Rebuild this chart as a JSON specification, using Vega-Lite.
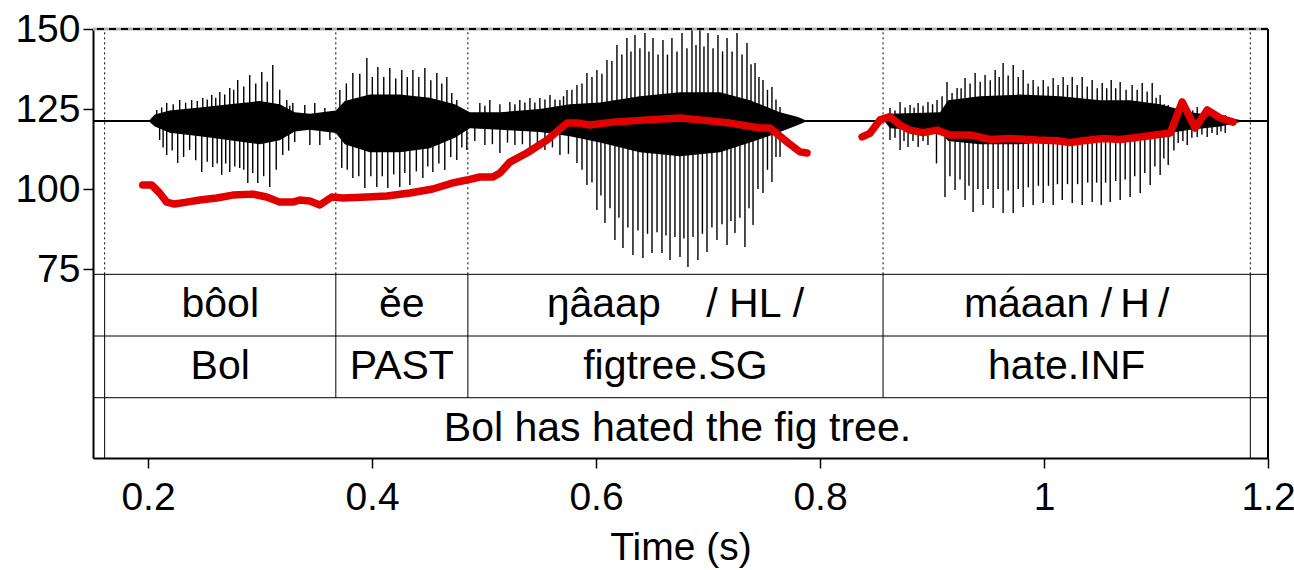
{
  "$schema": "https://vega.github.io/schema/vega-lite/v6.json",
  "width": 1175,
  "height": 429,
  "autosize": {"type": "none"},
  "padding": {"left": 93, "top": 29, "right": 26, "bottom": 112},
  "background": "white",
  "config": {
    "view": {"stroke": null},
    "font": "Liberation Sans",
    "text": {"font": "Liberation Sans", "color": "black"}
  },
  "resolve": {"axis": {"x": "independent", "y": "independent"}},
  "datasets": {
    "core": [
      {"t": 0.1509, "hi": 121.6, "lo": 120.9},
      {"t": 0.2015, "hi": 121.6, "lo": 120.9},
      {"t": 0.206, "hi": 123.25, "lo": 119.5},
      {"t": 0.2194, "hi": 124.5, "lo": 117.6},
      {"t": 0.2462, "hi": 125.5, "lo": 116.5},
      {"t": 0.273, "hi": 126.5, "lo": 115.25},
      {"t": 0.2998, "hi": 127.5, "lo": 114},
      {"t": 0.3176, "hi": 126.5, "lo": 115.25},
      {"t": 0.331, "hi": 124, "lo": 118},
      {"t": 0.3445, "hi": 123.5, "lo": 118.5},
      {"t": 0.3677, "hi": 124.5, "lo": 117.5},
      {"t": 0.3757, "hi": 127.5, "lo": 114},
      {"t": 0.398, "hi": 129.5, "lo": 111.5},
      {"t": 0.4248, "hi": 129.5, "lo": 111.5},
      {"t": 0.4516, "hi": 128.5, "lo": 112.75},
      {"t": 0.474, "hi": 126.5, "lo": 116},
      {"t": 0.4874, "hi": 124, "lo": 119},
      {"t": 0.5142, "hi": 124, "lo": 118.5},
      {"t": 0.5499, "hi": 125, "lo": 117.8},
      {"t": 0.5767, "hi": 126.5, "lo": 116.5},
      {"t": 0.6035, "hi": 127, "lo": 114.5},
      {"t": 0.6392, "hi": 129, "lo": 111.5},
      {"t": 0.675, "hi": 130.25, "lo": 110.25},
      {"t": 0.7107, "hi": 130.25, "lo": 111.5},
      {"t": 0.7375, "hi": 127.75, "lo": 114.5},
      {"t": 0.7643, "hi": 124, "lo": 117.8},
      {"t": 0.7804, "hi": 122.5, "lo": 120},
      {"t": 0.7866, "hi": 121.6, "lo": 120.9},
      {"t": 0.8581, "hi": 121.6, "lo": 120.9},
      {"t": 0.8625, "hi": 123.5, "lo": 119},
      {"t": 0.9072, "hi": 124, "lo": 118},
      {"t": 0.9144, "hi": 127.75, "lo": 115},
      {"t": 0.9429, "hi": 129, "lo": 114},
      {"t": 0.9787, "hi": 129.5, "lo": 114},
      {"t": 1.0145, "hi": 129, "lo": 115},
      {"t": 1.0502, "hi": 127.75, "lo": 116},
      {"t": 1.0769, "hi": 127.75, "lo": 116.5},
      {"t": 1.1037, "hi": 126.5, "lo": 117},
      {"t": 1.1305, "hi": 124, "lo": 118.5},
      {"t": 1.1573, "hi": 122.75, "lo": 119.5},
      {"t": 1.1752, "hi": 121.6, "lo": 120.9},
      {"t": 1.2, "hi": 121.6, "lo": 120.9}
    ],
    "spikes": [
      {"t": 0.2078, "v": 124.7}, {"t": 0.2167, "v": 126.9}, {"t": 0.2283, "v": 127.8}, {"t": 0.239, "v": 127.8},
      {"t": 0.2489, "v": 128.4}, {"t": 0.2569, "v": 129.4}, {"t": 0.2641, "v": 130.3}, {"t": 0.273, "v": 131.6},
      {"t": 0.2801, "v": 134.1}, {"t": 0.2908, "v": 135.6}, {"t": 0.3016, "v": 136.6}, {"t": 0.3114, "v": 138.75},
      {"t": 0.3239, "v": 127.8}, {"t": 0.3293, "v": 126.9},
      {"t": 0.2104, "v": 115.3}, {"t": 0.2167, "v": 110.6}, {"t": 0.2265, "v": 108.1}, {"t": 0.2372, "v": 112.2},
      {"t": 0.248, "v": 105.3}, {"t": 0.2578, "v": 106.9}, {"t": 0.2658, "v": 104.4}, {"t": 0.273, "v": 105.3},
      {"t": 0.2819, "v": 106.6}, {"t": 0.2891, "v": 101.9}, {"t": 0.298, "v": 101.9}, {"t": 0.3087, "v": 100.6},
      {"t": 0.3203, "v": 110.6}, {"t": 0.331, "v": 114.7},
      {"t": 0.2122, "v": 125.5}, {"t": 0.2225, "v": 126.5}, {"t": 0.2336, "v": 127}, {"t": 0.244, "v": 127.5},
      {"t": 0.2529, "v": 128}, {"t": 0.2605, "v": 128.5}, {"t": 0.2685, "v": 129.5}, {"t": 0.2765, "v": 131},
      {"t": 0.2855, "v": 132}, {"t": 0.2962, "v": 133}, {"t": 0.3065, "v": 133.5}, {"t": 0.3176, "v": 131}, {"t": 0.3266, "v": 126},
      {"t": 0.2135, "v": 113}, {"t": 0.2216, "v": 112}, {"t": 0.2318, "v": 110}, {"t": 0.2426, "v": 109},
      {"t": 0.2529, "v": 108.5}, {"t": 0.2618, "v": 108}, {"t": 0.2694, "v": 108}, {"t": 0.2775, "v": 107},
      {"t": 0.2855, "v": 106}, {"t": 0.2935, "v": 105}, {"t": 0.3033, "v": 104}, {"t": 0.3145, "v": 106}, {"t": 0.3256, "v": 112},
      {"t": 0.34, "v": 126.25}, {"t": 0.3489, "v": 126.9}, {"t": 0.3579, "v": 125.3},
      {"t": 0.3445, "v": 113.75}, {"t": 0.3534, "v": 113.75}, {"t": 0.3624, "v": 115.3},
      {"t": 0.3713, "v": 130.9}, {"t": 0.3829, "v": 136.25}, {"t": 0.3954, "v": 140.9}, {"t": 0.4052, "v": 138.1},
      {"t": 0.4159, "v": 137.8}, {"t": 0.4266, "v": 137.2}, {"t": 0.4365, "v": 137.2}, {"t": 0.4472, "v": 137.8},
      {"t": 0.4579, "v": 136.25}, {"t": 0.4668, "v": 135.0}, {"t": 0.4757, "v": 127.8},
      {"t": 0.373, "v": 106.6}, {"t": 0.3829, "v": 103.4}, {"t": 0.3936, "v": 100.3}, {"t": 0.4043, "v": 100.6},
      {"t": 0.4141, "v": 100.3}, {"t": 0.4248, "v": 100.6}, {"t": 0.4338, "v": 101.25}, {"t": 0.4454, "v": 103.4},
      {"t": 0.4543, "v": 105.3}, {"t": 0.465, "v": 105.9}, {"t": 0.4757, "v": 109.06}, {"t": 0.4847, "v": 112.2},
      {"t": 0.3771, "v": 133}, {"t": 0.3891, "v": 136}, {"t": 0.4003, "v": 135}, {"t": 0.4105, "v": 135},
      {"t": 0.4212, "v": 134.5}, {"t": 0.4315, "v": 135}, {"t": 0.4418, "v": 135}, {"t": 0.4525, "v": 134},
      {"t": 0.4623, "v": 133}, {"t": 0.4712, "v": 130},
      {"t": 0.3779, "v": 106}, {"t": 0.3882, "v": 104}, {"t": 0.399, "v": 104}, {"t": 0.4092, "v": 104},
      {"t": 0.4194, "v": 104.5}, {"t": 0.4293, "v": 105}, {"t": 0.4396, "v": 105.5}, {"t": 0.4498, "v": 107},
      {"t": 0.4597, "v": 108}, {"t": 0.4703, "v": 110}, {"t": 0.4802, "v": 113},
      {"t": 0.4963, "v": 126.9}, {"t": 0.5052, "v": 127.8}, {"t": 0.5231, "v": 127.2}, {"t": 0.532, "v": 127.8},
      {"t": 0.541, "v": 128.4}, {"t": 0.5499, "v": 128.4}, {"t": 0.5589, "v": 129.4}, {"t": 0.5678, "v": 127.8},
      {"t": 0.5741, "v": 130.9}, {"t": 0.583, "v": 132.5}, {"t": 0.5919, "v": 136.25},
      {"t": 0.5008, "v": 113.75}, {"t": 0.5142, "v": 111.25}, {"t": 0.5276, "v": 113.75}, {"t": 0.541, "v": 112.2},
      {"t": 0.5544, "v": 112.2}, {"t": 0.5678, "v": 110.6}, {"t": 0.583, "v": 108.1}, {"t": 0.5919, "v": 101.25},
      {"t": 0.5008, "v": 126}, {"t": 0.5142, "v": 126.5}, {"t": 0.5276, "v": 126.5}, {"t": 0.5365, "v": 127},
      {"t": 0.5454, "v": 127}, {"t": 0.5544, "v": 128}, {"t": 0.5634, "v": 128}, {"t": 0.571, "v": 129},
      {"t": 0.5785, "v": 131}, {"t": 0.5875, "v": 133}, {"t": 0.5964, "v": 135},
      {"t": 0.4918, "v": 115}, {"t": 0.5075, "v": 114}, {"t": 0.521, "v": 114.5}, {"t": 0.5343, "v": 114},
      {"t": 0.5477, "v": 114}, {"t": 0.5611, "v": 113}, {"t": 0.5754, "v": 111}, {"t": 0.5875, "v": 106}, {"t": 0.5964, "v": 102},
      {"t": 0.6008, "v": 137.2}, {"t": 0.6098, "v": 140.3}, {"t": 0.6187, "v": 145.0}, {"t": 0.6276, "v": 147.2},
      {"t": 0.6348, "v": 148.1}, {"t": 0.6437, "v": 148.75}, {"t": 0.6509, "v": 147.2}, {"t": 0.6598, "v": 146.6},
      {"t": 0.6678, "v": 147.2}, {"t": 0.6768, "v": 148.75}, {"t": 0.6857, "v": 149.7}, {"t": 0.6928, "v": 149.7},
      {"t": 0.7, "v": 148.75}, {"t": 0.7089, "v": 148.1}, {"t": 0.717, "v": 147.2}, {"t": 0.7259, "v": 148.75},
      {"t": 0.7348, "v": 145.6}, {"t": 0.742, "v": 139.4}, {"t": 0.7491, "v": 134.1}, {"t": 0.7571, "v": 131.9},
      {"t": 0.7643, "v": 125.6},
      {"t": 0.6008, "v": 93.4}, {"t": 0.608, "v": 89.4}, {"t": 0.6169, "v": 84.1}, {"t": 0.6241, "v": 81.6},
      {"t": 0.633, "v": 79.4}, {"t": 0.6419, "v": 78.4}, {"t": 0.65, "v": 80.0}, {"t": 0.6589, "v": 80.0},
      {"t": 0.6661, "v": 77.8}, {"t": 0.675, "v": 78.75}, {"t": 0.6821, "v": 75.6}, {"t": 0.691, "v": 77.8},
      {"t": 0.6991, "v": 80.3}, {"t": 0.708, "v": 84.1}, {"t": 0.717, "v": 82.5}, {"t": 0.7241, "v": 86.25},
      {"t": 0.733, "v": 81.9}, {"t": 0.7402, "v": 88.75}, {"t": 0.7491, "v": 98.75}, {"t": 0.7571, "v": 102.2},
      {"t": 0.7643, "v": 110.0}, {"t": 0.7705, "v": 119.4},
      {"t": 0.6053, "v": 136}, {"t": 0.6142, "v": 140}, {"t": 0.6231, "v": 142}, {"t": 0.6312, "v": 143},
      {"t": 0.6392, "v": 144}, {"t": 0.6473, "v": 143}, {"t": 0.6554, "v": 142}, {"t": 0.6638, "v": 142},
      {"t": 0.6723, "v": 143}, {"t": 0.6812, "v": 144}, {"t": 0.6893, "v": 145}, {"t": 0.6964, "v": 144.5},
      {"t": 0.7045, "v": 144}, {"t": 0.713, "v": 143}, {"t": 0.7215, "v": 143}, {"t": 0.7304, "v": 142},
      {"t": 0.7384, "v": 139}, {"t": 0.7455, "v": 135}, {"t": 0.7531, "v": 131}, {"t": 0.7607, "v": 128},
      {"t": 0.6044, "v": 98}, {"t": 0.6125, "v": 94}, {"t": 0.6205, "v": 91}, {"t": 0.6285, "v": 88},
      {"t": 0.6375, "v": 87}, {"t": 0.646, "v": 86}, {"t": 0.6545, "v": 86.5}, {"t": 0.6625, "v": 85.5},
      {"t": 0.6705, "v": 85}, {"t": 0.6785, "v": 84.5}, {"t": 0.6866, "v": 85}, {"t": 0.695, "v": 86},
      {"t": 0.7035, "v": 88}, {"t": 0.7125, "v": 89}, {"t": 0.7205, "v": 90}, {"t": 0.7285, "v": 91},
      {"t": 0.7366, "v": 94}, {"t": 0.7446, "v": 100}, {"t": 0.7531, "v": 106}, {"t": 0.7607, "v": 110},
      {"t": 0.8625, "v": 125.3}, {"t": 0.8715, "v": 127.2}, {"t": 0.8804, "v": 126.25}, {"t": 0.8876, "v": 126.9},
      {"t": 0.8964, "v": 127.2}, {"t": 0.9045, "v": 127.8}, {"t": 0.9134, "v": 133.4}, {"t": 0.9224, "v": 131.6},
      {"t": 0.9295, "v": 134.7}, {"t": 0.9385, "v": 136.25}, {"t": 0.9474, "v": 135.6}, {"t": 0.9564, "v": 137.2},
      {"t": 0.9635, "v": 139.4}, {"t": 0.9725, "v": 138.75}, {"t": 0.9814, "v": 137.2}, {"t": 0.9903, "v": 134.1},
      {"t": 0.9993, "v": 134.1}, {"t": 1.0082, "v": 134.7}, {"t": 1.0171, "v": 135.0}, {"t": 1.0252, "v": 135.0},
      {"t": 1.0341, "v": 135.0}, {"t": 1.043, "v": 134.1}, {"t": 1.052, "v": 133.1}, {"t": 1.06, "v": 134.1},
      {"t": 1.068, "v": 133.4}, {"t": 1.0787, "v": 132.5}, {"t": 1.0877, "v": 133.1}, {"t": 1.0966, "v": 133.1},
      {"t": 1.1037, "v": 129.4}, {"t": 1.1109, "v": 126.25}, {"t": 1.1216, "v": 125.6}, {"t": 1.1288, "v": 125.3},
      {"t": 1.1368, "v": 125.6}, {"t": 1.1457, "v": 124.7}, {"t": 1.1546, "v": 123.75}, {"t": 1.1618, "v": 123.1},
      {"t": 0.8625, "v": 115.3}, {"t": 0.8715, "v": 112.2}, {"t": 0.8786, "v": 113.1}, {"t": 0.8876, "v": 113.1},
      {"t": 0.8964, "v": 113.75}, {"t": 0.9116, "v": 97.5}, {"t": 0.9206, "v": 99.7}, {"t": 0.9295, "v": 96.56},
      {"t": 0.9367, "v": 92.8}, {"t": 0.9456, "v": 95.0}, {"t": 0.9546, "v": 94.1}, {"t": 0.9635, "v": 92.5},
      {"t": 0.9725, "v": 92.5}, {"t": 0.9814, "v": 94.4}, {"t": 0.9903, "v": 95.0}, {"t": 0.9993, "v": 95.6},
      {"t": 1.0082, "v": 95.0}, {"t": 1.0163, "v": 96.56}, {"t": 1.0252, "v": 95.6}, {"t": 1.0341, "v": 95.0},
      {"t": 1.043, "v": 95.9}, {"t": 1.0511, "v": 95.0}, {"t": 1.0591, "v": 95.9}, {"t": 1.068, "v": 96.56},
      {"t": 1.0769, "v": 97.5}, {"t": 1.0859, "v": 98.75}, {"t": 1.0948, "v": 101.25}, {"t": 1.1037, "v": 104.4},
      {"t": 1.1109, "v": 107.5}, {"t": 1.1198, "v": 114.4}, {"t": 1.1279, "v": 113.75}, {"t": 1.1368, "v": 116.25},
      {"t": 1.1457, "v": 116.25}, {"t": 1.1546, "v": 116.9}, {"t": 1.1618, "v": 117.5},
      {"t": 0.867, "v": 124.5}, {"t": 0.876, "v": 125.5}, {"t": 0.884, "v": 125.5}, {"t": 0.892, "v": 126},
      {"t": 0.9005, "v": 126.5}, {"t": 0.909, "v": 129}, {"t": 0.9179, "v": 130}, {"t": 0.926, "v": 131.5},
      {"t": 0.934, "v": 133}, {"t": 0.943, "v": 133.5}, {"t": 0.952, "v": 134}, {"t": 0.96, "v": 135},
      {"t": 0.968, "v": 135.5}, {"t": 0.977, "v": 135}, {"t": 0.9858, "v": 133}, {"t": 0.9948, "v": 132},
      {"t": 1.0037, "v": 132}, {"t": 1.0126, "v": 132.5}, {"t": 1.021, "v": 132.5}, {"t": 1.0296, "v": 132.5},
      {"t": 1.0386, "v": 132}, {"t": 1.0475, "v": 131.5}, {"t": 1.056, "v": 131.5}, {"t": 1.064, "v": 131.5},
      {"t": 1.0733, "v": 131}, {"t": 1.0832, "v": 131}, {"t": 1.0921, "v": 130.5}, {"t": 1.1001, "v": 128.5},
      {"t": 1.1073, "v": 126.5}, {"t": 1.1162, "v": 125}, {"t": 1.1252, "v": 124.5}, {"t": 1.1328, "v": 124.5},
      {"t": 1.1412, "v": 124}, {"t": 1.15, "v": 123.5}, {"t": 1.1582, "v": 123},
      {"t": 0.867, "v": 116}, {"t": 0.875, "v": 115}, {"t": 0.883, "v": 115}, {"t": 0.892, "v": 115},
      {"t": 0.904, "v": 108}, {"t": 0.916, "v": 104}, {"t": 0.925, "v": 103}, {"t": 0.933, "v": 101},
      {"t": 0.941, "v": 100}, {"t": 0.95, "v": 100}, {"t": 0.959, "v": 100}, {"t": 0.968, "v": 99.5},
      {"t": 0.977, "v": 100}, {"t": 0.986, "v": 100.5}, {"t": 0.995, "v": 101}, {"t": 1.004, "v": 101},
      {"t": 1.012, "v": 101.5}, {"t": 1.021, "v": 101.5}, {"t": 1.03, "v": 101.5}, {"t": 1.039, "v": 102},
      {"t": 1.047, "v": 102}, {"t": 1.055, "v": 102}, {"t": 1.064, "v": 102.5}, {"t": 1.0725, "v": 103},
      {"t": 1.081, "v": 104}, {"t": 1.09, "v": 105}, {"t": 1.099, "v": 107}, {"t": 1.107, "v": 109.5},
      {"t": 1.116, "v": 112}, {"t": 1.124, "v": 115}, {"t": 1.132, "v": 116}, {"t": 1.141, "v": 117},
      {"t": 1.15, "v": 117.5}, {"t": 1.158, "v": 118}
    ],
    "pitch": [
      {"seg": 1, "t": 0.1953, "v": 101.25}, {"seg": 1, "t": 0.2033, "v": 101.25}, {"seg": 1, "t": 0.2104, "v": 98.75},
      {"seg": 1, "t": 0.2167, "v": 95.9}, {"seg": 1, "t": 0.2238, "v": 95.3}, {"seg": 1, "t": 0.2346, "v": 95.9},
      {"seg": 1, "t": 0.2462, "v": 96.56}, {"seg": 1, "t": 0.2614, "v": 97.2}, {"seg": 1, "t": 0.2757, "v": 98.1},
      {"seg": 1, "t": 0.2935, "v": 98.4}, {"seg": 1, "t": 0.306, "v": 97.5}, {"seg": 1, "t": 0.3176, "v": 95.9},
      {"seg": 1, "t": 0.3293, "v": 95.9}, {"seg": 1, "t": 0.3355, "v": 96.56}, {"seg": 1, "t": 0.3445, "v": 96.25},
      {"seg": 1, "t": 0.3534, "v": 95.0}, {"seg": 1, "t": 0.3641, "v": 97.5}, {"seg": 1, "t": 0.374, "v": 97.2},
      {"seg": 1, "t": 0.3954, "v": 97.5}, {"seg": 1, "t": 0.4133, "v": 97.8}, {"seg": 1, "t": 0.4338, "v": 98.75},
      {"seg": 1, "t": 0.4543, "v": 100.0}, {"seg": 1, "t": 0.4723, "v": 101.9}, {"seg": 1, "t": 0.4847, "v": 102.8},
      {"seg": 1, "t": 0.4963, "v": 103.75}, {"seg": 1, "t": 0.508, "v": 103.75}, {"seg": 1, "t": 0.5142, "v": 105.0},
      {"seg": 1, "t": 0.5231, "v": 108.4}, {"seg": 1, "t": 0.5383, "v": 111.25}, {"seg": 1, "t": 0.5562, "v": 115.3},
      {"seg": 1, "t": 0.5741, "v": 120.6}, {"seg": 1, "t": 0.583, "v": 120.6}, {"seg": 1, "t": 0.5946, "v": 120.0},
      {"seg": 1, "t": 0.6151, "v": 120.9}, {"seg": 1, "t": 0.6455, "v": 121.6}, {"seg": 1, "t": 0.675, "v": 122.2},
      {"seg": 1, "t": 0.6928, "v": 121.6}, {"seg": 1, "t": 0.7196, "v": 120.6}, {"seg": 1, "t": 0.7464, "v": 119.06},
      {"seg": 1, "t": 0.7554, "v": 119.06}, {"seg": 1, "t": 0.7705, "v": 114.7}, {"seg": 1, "t": 0.7821, "v": 111.6},
      {"seg": 1, "t": 0.7884, "v": 111.25},
      {"seg": 2, "t": 0.8376, "v": 116.3}, {"seg": 2, "t": 0.8446, "v": 117.4}, {"seg": 2, "t": 0.8536, "v": 121.6},
      {"seg": 2, "t": 0.8625, "v": 122.6}, {"seg": 2, "t": 0.8715, "v": 120.0}, {"seg": 2, "t": 0.8804, "v": 118.4},
      {"seg": 2, "t": 0.892, "v": 117.6}, {"seg": 2, "t": 0.9045, "v": 118.4}, {"seg": 2, "t": 0.9161, "v": 116.9},
      {"seg": 2, "t": 0.934, "v": 116.9}, {"seg": 2, "t": 0.9519, "v": 115.5}, {"seg": 2, "t": 0.9698, "v": 115.8},
      {"seg": 2, "t": 0.9939, "v": 115.3}, {"seg": 2, "t": 1.0118, "v": 115.1}, {"seg": 2, "t": 1.0234, "v": 114.5},
      {"seg": 2, "t": 1.035, "v": 115.1}, {"seg": 2, "t": 1.0529, "v": 115.8}, {"seg": 2, "t": 1.068, "v": 115.5},
      {"seg": 2, "t": 1.0859, "v": 116.25}, {"seg": 2, "t": 1.1127, "v": 117.5}, {"seg": 2, "t": 1.1234, "v": 127.2},
      {"seg": 2, "t": 1.135, "v": 119.06}, {"seg": 2, "t": 1.1457, "v": 124.7}, {"seg": 2, "t": 1.1573, "v": 122.2},
      {"seg": 2, "t": 1.1689, "v": 120.9}
    ],
    "bounds": [
      {"t": 0.1613, "outer": 1}, {"t": 0.3677, "outer": 0}, {"t": 0.4856, "outer": 0},
      {"t": 0.8563, "outer": 0}, {"t": 1.1842, "outer": 1}
    ],
    "tiers": [
      {"tier": 1, "start": 0.1613, "end": 0.3677, "label": "bôol"},
      {"tier": 1, "start": 0.3677, "end": 0.4856, "label": "ěe"},
      {"tier": 1, "start": 0.4856, "end": 0.8563, "label": "ŋâaap\u00a0\u00a0\u00a0\u00a0/\u00a0HL\u00a0/"},
      {"tier": 1, "start": 0.8563, "end": 1.1842, "label": "máaan\u00a0/\u2009H\u2009/"},
      {"tier": 2, "start": 0.1613, "end": 0.3677, "label": "Bol"},
      {"tier": 2, "start": 0.3677, "end": 0.4856, "label": "PAST"},
      {"tier": 2, "start": 0.4856, "end": 0.8563, "label": "figtree.SG"},
      {"tier": 2, "start": 0.8563, "end": 1.1842, "label": "hate.INF"},
      {"tier": 3, "start": 0.1613, "end": 1.1842, "label": "Bol has hated the fig tree."}
    ]
  },
  "layer": [
    {
      "data": {"name": "core"},
      "mark": {"type": "area", "color": "black", "opacity": 1},
      "encoding": {
        "x": {
          "field": "t", "type": "quantitative", "title": "Time (s)",
          "scale": {"domain": [0.1509, 1.2], "nice": false, "zero": false},
          "axis": {
            "values": [0.2, 0.4, 0.6, 0.8, 1, 1.2], "format": "~g", "grid": false,
            "labelFont": "Liberation Sans", "labelFontSize": 39, "labelColor": "black",
            "labelFlush": false, "labelOverlap": false, "labelBound": false, "labelPadding": 10,
            "tickSize": 10, "tickWidth": 1.5, "tickColor": "black",
            "domainColor": "black", "domainWidth": 2,
            "titleFont": "Liberation Sans", "titleFontSize": 39, "titleFontWeight": "normal",
            "titleColor": "black", "titlePadding": 11
          }
        },
        "y": {
          "field": "hi", "type": "quantitative", "title": null,
          "scale": {"domain": [15.94, 150], "nice": false, "zero": false},
          "axis": {
            "values": [75, 100, 125, 150], "grid": false,
            "labelFont": "Liberation Sans", "labelFontSize": 39, "labelColor": "black",
            "labelFlush": false, "labelOverlap": false, "labelBound": false, "labelPadding": 3,
            "tickSize": 10, "tickWidth": 1.5, "tickColor": "black",
            "domainColor": "black", "domainWidth": 2
          }
        },
        "y2": {"field": "lo"}
      }
    },
    {
      "data": {"name": "spikes"},
      "mark": {"type": "rule", "color": "black", "strokeWidth": 1.4},
      "encoding": {
        "x": {"field": "t", "type": "quantitative", "axis": null},
        "y": {"field": "v", "type": "quantitative", "axis": null},
        "y2": {"datum": 121.25}
      }
    },
    {
      "data": {"values": [{}]},
      "mark": {"type": "rule", "color": "black", "strokeWidth": 1},
      "encoding": {"y": {"datum": 121.25, "type": "quantitative", "axis": null}}
    },
    {
      "data": {"name": "bounds"},
      "mark": {"type": "rule", "color": "black", "strokeWidth": 1, "strokeDash": [2, 3]},
      "encoding": {
        "x": {"field": "t", "type": "quantitative", "axis": null},
        "y": {"datum": 73.34, "type": "quantitative", "axis": null},
        "y2": {"datum": 150}
      }
    },
    {
      "data": {"name": "bounds"},
      "mark": {"type": "rule", "color": "black", "strokeWidth": 1},
      "encoding": {
        "x": {"field": "t", "type": "quantitative", "axis": null},
        "y": {"datum": 34.78, "type": "quantitative", "axis": null},
        "y2": {"datum": 73.34}
      }
    },
    {
      "data": {"name": "bounds"},
      "transform": [{"filter": "datum.outer == 1"}],
      "mark": {"type": "rule", "color": "black", "strokeWidth": 1},
      "encoding": {
        "x": {"field": "t", "type": "quantitative", "axis": null},
        "y": {"datum": 15.94, "type": "quantitative", "axis": null},
        "y2": {"datum": 34.78}
      }
    },
    {
      "data": {"values": [{}]},
      "mark": {"type": "rule", "color": "black", "strokeWidth": 1},
      "encoding": {"y": {"datum": 73.34, "type": "quantitative", "axis": null}}
    },
    {
      "data": {"values": [{}]},
      "mark": {"type": "rule", "color": "black", "strokeWidth": 1},
      "encoding": {"y": {"datum": 54.06, "type": "quantitative", "axis": null}}
    },
    {
      "data": {"values": [{}]},
      "mark": {"type": "rule", "color": "black", "strokeWidth": 1},
      "encoding": {"y": {"datum": 34.78, "type": "quantitative", "axis": null}}
    },
    {
      "data": {"values": [{}]},
      "mark": {"type": "rule", "color": "#b0b0b0", "strokeWidth": 3},
      "encoding": {"y": {"datum": 150, "type": "quantitative", "axis": null}}
    },
    {
      "data": {"values": [{}]},
      "mark": {"type": "rule", "color": "black", "strokeWidth": 2, "strokeDash": [7, 5]},
      "encoding": {"y": {"datum": 150, "type": "quantitative", "axis": null}}
    },
    {
      "data": {"values": [{}]},
      "mark": {"type": "rule", "color": "black", "strokeWidth": 2},
      "encoding": {"x": {"datum": 1.2, "type": "quantitative", "axis": null}}
    },
    {
      "data": {"name": "pitch"},
      "mark": {"type": "line", "color": "#e00000", "strokeWidth": 7.5, "strokeCap": "round", "strokeJoin": "round"},
      "encoding": {
        "x": {"field": "t", "type": "quantitative", "axis": null},
        "y": {"field": "v", "type": "quantitative", "axis": null},
        "detail": {"field": "seg"}
      }
    },
    {
      "data": {"name": "tiers"},
      "transform": [{"filter": "datum.tier == 1"}, {"calculate": "(datum.start + datum.end) / 2", "as": "mid"}],
      "mark": {"type": "text", "fontSize": 41, "align": "center", "baseline": "alphabetic", "color": "black"},
      "encoding": {
        "x": {"field": "mid", "type": "quantitative", "axis": null},
        "y": {"datum": 60.0, "type": "quantitative", "axis": null},
        "text": {"field": "label"}
      }
    },
    {
      "data": {"name": "tiers"},
      "transform": [{"filter": "datum.tier == 2"}, {"calculate": "(datum.start + datum.end) / 2", "as": "mid"}],
      "mark": {"type": "text", "fontSize": 41, "align": "center", "baseline": "alphabetic", "color": "black"},
      "encoding": {
        "x": {"field": "mid", "type": "quantitative", "axis": null},
        "y": {"datum": 40.6, "type": "quantitative", "axis": null},
        "text": {"field": "label"}
      }
    },
    {
      "data": {"name": "tiers"},
      "transform": [{"filter": "datum.tier == 3"}, {"calculate": "(datum.start + datum.end) / 2", "as": "mid"}],
      "mark": {"type": "text", "fontSize": 41, "align": "center", "baseline": "alphabetic", "color": "black"},
      "encoding": {
        "x": {"field": "mid", "type": "quantitative", "axis": null},
        "y": {"datum": 21.3, "type": "quantitative", "axis": null},
        "text": {"field": "label"}
      }
    }
  ]
}
